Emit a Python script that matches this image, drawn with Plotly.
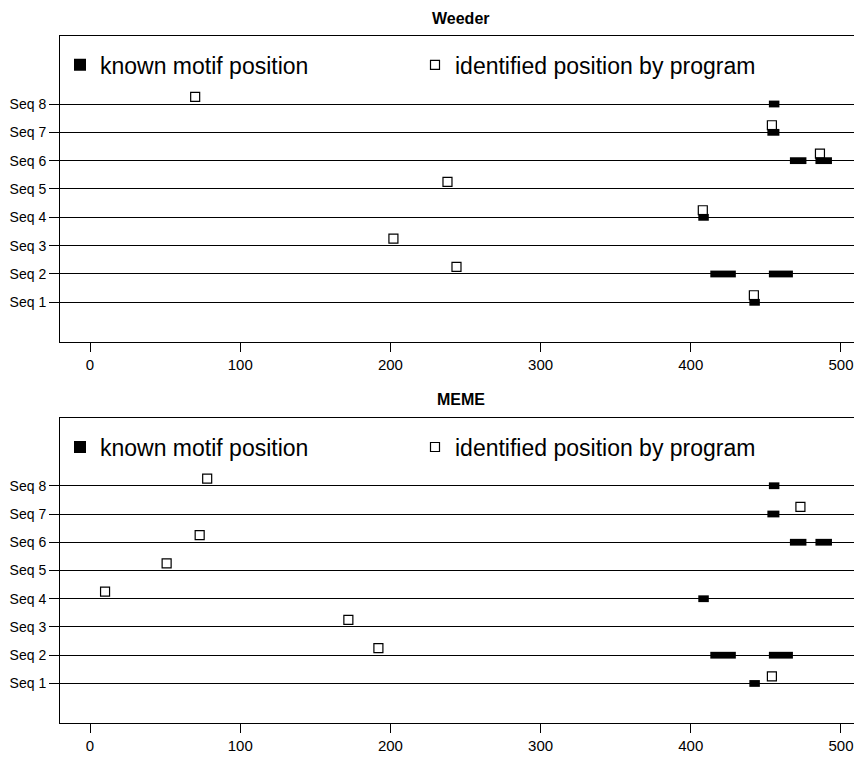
import plotly.graph_objects as go

# ---- data ----
seq_labels = ["Seq 1", "Seq 2", "Seq 3", "Seq 4", "Seq 5", "Seq 6", "Seq 7", "Seq 8"]
seq_index = [1, 2, 3, 4, 5, 6, 7, 8]
x_ticks = [0, 100, 200, 300, 400, 500]

# known motif positions (same for both programs)
known_seq = [1, 2, 2, 4, 6, 6, 7, 8]
known_start = [439, 413, 452, 405, 466, 483, 451, 452]
known_end = [446, 430, 468, 412, 477, 494, 459, 459]

# identified positions by each program (one per sequence 1..8)
weeder_pos = [442, 244, 202, 408, 238, 486, 454, 70]
meme_pos = [454, 192, 172, 10, 51, 73, 473, 78]

panels = [("Weeder", weeder_pos), ("MEME", meme_pos)]

# ---- style ----
FONT = "Liberation Sans, Arial, sans-serif"
open_offset = 0.25
bar_thickness = 0.24

fig = go.Figure()

domains = [[0.5546, 1.0], [0.0, 0.4440]]
title_y = [1.0255, 0.4716]
legend_y = [0.958, 0.4017]

for i, (name, pos) in enumerate(panels):
    xa = "x" if i == 0 else "x2"
    ya = "y" if i == 0 else "y2"
    lg = "legend" if i == 0 else "legend2"
    fig.add_trace(go.Bar(
        orientation="h",
        y=known_seq,
        x=[e - s for s, e in zip(known_start, known_end)],
        base=known_start,
        width=bar_thickness,
        marker=dict(color="black", line=dict(width=0)),
        name="known motif position",
        xaxis=xa, yaxis=ya, legend=lg,
        hoverinfo="skip",
    ))
    fig.add_trace(go.Scatter(
        x=pos,
        y=[s + open_offset for s in seq_index],
        mode="markers",
        marker=dict(symbol="square-open", size=9, color="black", line=dict(width=1.2, color="black")),
        name="identified position by program",
        xaxis=xa, yaxis=ya, legend=lg,
    ))
    fig.add_annotation(
        text="<b>" + name + "</b>", x=0.5, y=title_y[i], xref="paper", yref="paper",
        xanchor="center", yanchor="middle", showarrow=False,
        font=dict(family=FONT, size=16, color="black"),
    )

axis_x = dict(
    range=[-20, 514], tickvals=x_ticks, ticks="outside", ticklen=9, tickcolor="black",
    showline=True, linecolor="black", linewidth=1, mirror=True, showgrid=False, zeroline=False,
    tickfont=dict(family=FONT, size=15, color="black"), automargin=False,
)
axis_y = dict(
    range=[-0.4, 10.4], tickvals=seq_index, ticktext=seq_labels, ticks="outside", ticklen=10,
    tickcolor="black", showline=True, linecolor="black", linewidth=1, mirror=False,
    showgrid=True, gridcolor="black", gridwidth=1, zeroline=False,
    tickfont=dict(family=FONT, size=14, color="black"), automargin=False,
)

legend_common = dict(
    orientation="h", x=0.0, xanchor="left", yanchor="middle",
    font=dict(family=FONT, size=23, color="black"), bgcolor="rgba(0,0,0,0)",
    entrywidth=310, entrywidthmode="pixels", itemclick=False,
)

fig.update_layout(
    width=854, height=749,
    margin=dict(l=52, r=0, t=28, b=34, autoexpand=False),
    paper_bgcolor="white", plot_bgcolor="white",
    barmode="overlay",
    showlegend=True,
    xaxis=dict(domain=[0, 1], anchor="y", **axis_x),
    yaxis=dict(domain=domains[0], anchor="x", **axis_y),
    xaxis2=dict(domain=[0, 1], anchor="y2", **axis_x),
    yaxis2=dict(domain=domains[1], anchor="x2", **axis_y),
    legend=dict(y=legend_y[0], **legend_common),
    legend2=dict(y=legend_y[1], **legend_common),
    font=dict(family=FONT, color="black"),
)

fig.write_html("out.html")
